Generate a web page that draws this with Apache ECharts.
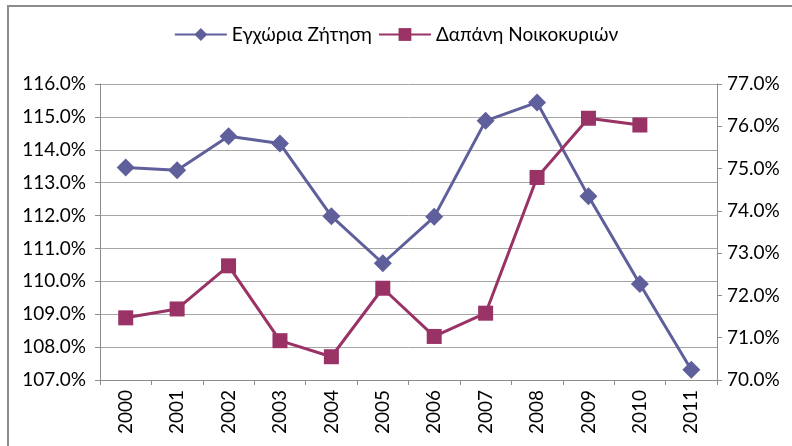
<!DOCTYPE html>
<html><head><meta charset="utf-8">
<script src="https://cdn.jsdelivr.net/npm/echarts@6/dist/echarts.min.js"></script>
<style>html,body{margin:0;padding:0;background:#fff}#c{width:792px;height:446px}</style>
</head><body><div id="c"></div>
<script>
const years = ['2000','2001','2002','2003','2004','2005','2006','2007','2008','2009','2010','2011'];
const domesticDemand = [113.46, 113.38, 114.41, 114.19, 111.98, 110.55, 111.96, 114.88, 115.44, 112.59, 109.92, 107.31];
const householdSpending = [71.47, 71.68, 72.70, 70.93, 70.55, 72.17, 71.03, 71.58, 74.79, 76.19, 76.03, null];
const seriesNames = ['Εγχώρια Ζήτηση', 'Δαπάνη Νοικοκυριών'];
const font = 'Lato, "Open Sans", sans-serif';
const chart = echarts.init(document.getElementById('c'), null, {renderer:'canvas'});
chart.setOption({
  animation:false,
  backgroundColor:'#fff',
  graphic:[{type:'rect',shape:{x:8,y:6,width:900,height:600},style:{fill:'none',stroke:'#8c8c8c',lineWidth:2},silent:true}],
  legend:{top:20,left:'center',itemWidth:52,itemHeight:16,itemGap:6,
    textStyle:{fontFamily:font,fontSize:19,color:'#000'},data:seriesNames},
  grid:{left:100,right:75,top:84,bottom:66},
  xAxis:{type:'category',data:years,boundaryGap:true,
    axisLine:{lineStyle:{color:'#8c8c8c',width:1}},
    axisTick:{show:true,length:5,lineStyle:{color:'#8c8c8c'}},
    axisLabel:{rotate:90,fontFamily:font,fontSize:19,color:'#000',margin:10}},
  yAxis:[{type:'value',min:107,max:116,interval:1,
    axisLine:{show:true,lineStyle:{color:'#8c8c8c'}},
    axisTick:{show:true,length:5,lineStyle:{color:'#8c8c8c'}},
    splitLine:{lineStyle:{color:'#a6a6a6',width:1}},
    axisLabel:{formatter:v=>v.toFixed(1)+'%',fontFamily:font,fontSize:19,color:'#000',margin:14}},
   {type:'value',min:70,max:77,interval:1,position:'right',
    axisLine:{show:true,lineStyle:{color:'#8c8c8c'}},
    axisTick:{show:true,length:5,lineStyle:{color:'#8c8c8c'}},
    splitLine:{show:false},
    axisLabel:{formatter:v=>v.toFixed(1)+'%',fontFamily:font,fontSize:19,color:'#000',margin:10}}],
  series:[
    {name:seriesNames[0],type:'line',yAxisIndex:0,data:domesticDemand,symbol:'diamond',symbolSize:18,
     itemStyle:{color:'#5f5f9c'},lineStyle:{color:'#5f5f9c',width:3}},
    {name:seriesNames[1],type:'line',yAxisIndex:1,data:householdSpending,symbol:'rect',symbolSize:15,
     itemStyle:{color:'#993366'},lineStyle:{color:'#993366',width:3}}
  ]
});
</script></body></html>
